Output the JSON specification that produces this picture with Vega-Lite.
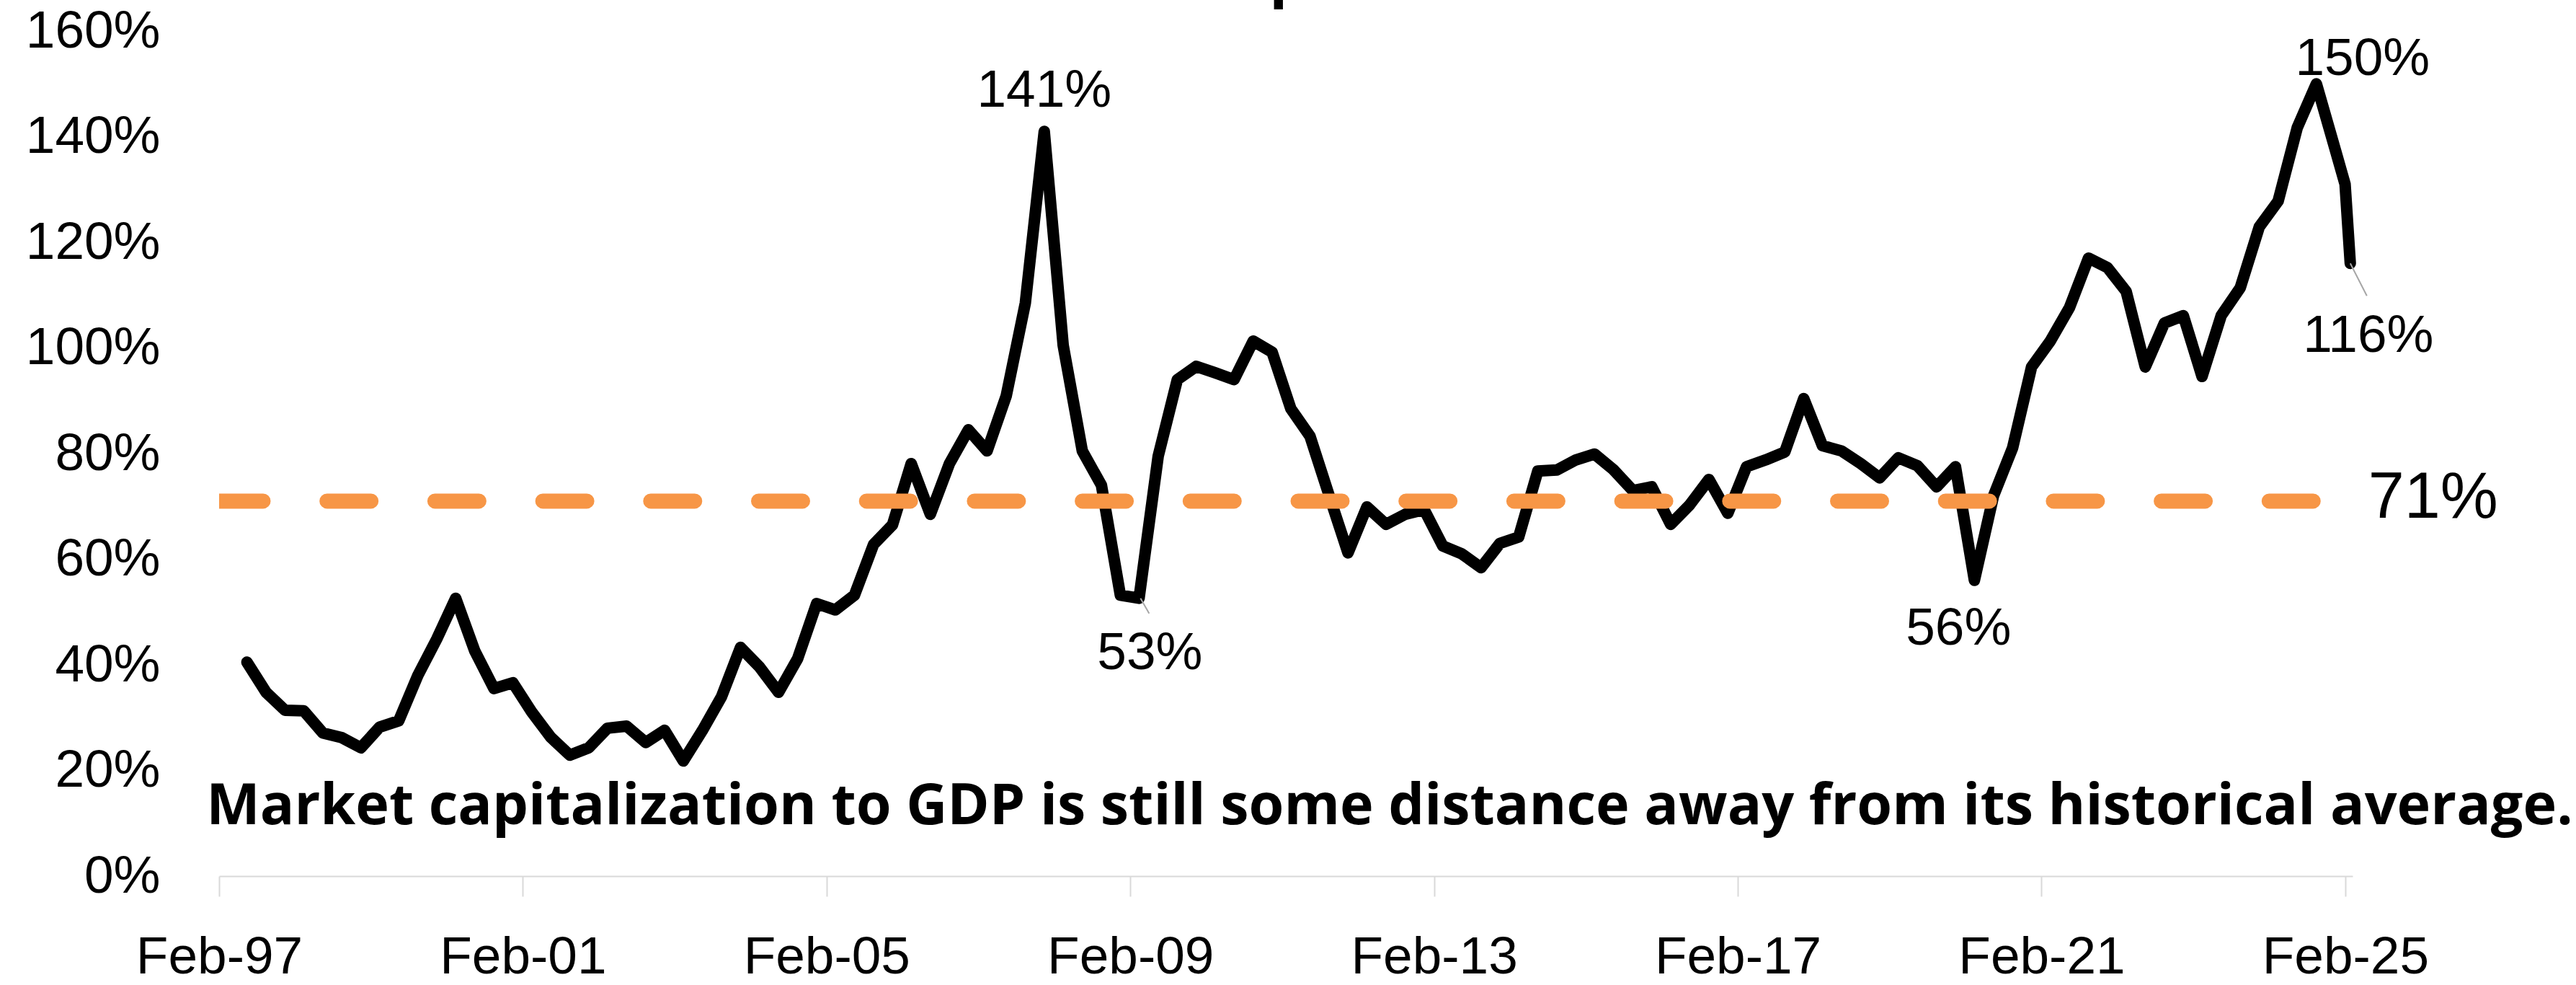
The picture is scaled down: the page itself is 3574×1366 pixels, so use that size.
{
  "$schema": "https://vega.github.io/schema/vega-lite/v6.json",
  "autosize": {"type": "none"},
  "width": 2960,
  "height": 1172,
  "padding": {"left": 304, "top": 43, "right": 310, "bottom": 151},
  "background": "white",
  "config": {"view": {"stroke": null}, "font": "Liberation Sans"},
  "datasets": {
    "series": [
      {"date": "1997-06-15", "value": 40.5}, {"date": "1997-09-15", "value": 34.8}, {"date": "1997-12-15", "value": 31.4},
      {"date": "1998-03-15", "value": 31.3}, {"date": "1998-06-15", "value": 27.1}, {"date": "1998-09-15", "value": 26.2}, {"date": "1998-12-15", "value": 24.3},
      {"date": "1999-03-15", "value": 28.2}, {"date": "1999-06-15", "value": 29.4}, {"date": "1999-09-15", "value": 38.0}, {"date": "1999-12-15", "value": 44.9},
      {"date": "2000-03-15", "value": 52.6}, {"date": "2000-06-15", "value": 42.6}, {"date": "2000-09-15", "value": 35.5}, {"date": "2000-12-15", "value": 36.6},
      {"date": "2001-03-15", "value": 31.1}, {"date": "2001-06-15", "value": 26.3}, {"date": "2001-09-15", "value": 22.9}, {"date": "2001-12-15", "value": 24.3},
      {"date": "2002-03-15", "value": 28.0}, {"date": "2002-06-15", "value": 28.4}, {"date": "2002-09-15", "value": 25.3}, {"date": "2002-12-15", "value": 27.6},
      {"date": "2003-03-15", "value": 21.8}, {"date": "2003-06-15", "value": 27.6}, {"date": "2003-09-15", "value": 34.0}, {"date": "2003-12-15", "value": 43.3},
      {"date": "2004-03-15", "value": 39.6}, {"date": "2004-06-15", "value": 34.8}, {"date": "2004-09-15", "value": 41.2}, {"date": "2004-12-15", "value": 51.6},
      {"date": "2005-03-15", "value": 50.4}, {"date": "2005-06-15", "value": 53.2}, {"date": "2005-09-15", "value": 62.8}, {"date": "2005-12-15", "value": 66.5},
      {"date": "2006-03-15", "value": 78.1}, {"date": "2006-06-15", "value": 68.5}, {"date": "2006-09-15", "value": 78.1}, {"date": "2006-12-15", "value": 84.5},
      {"date": "2007-03-15", "value": 80.5}, {"date": "2007-06-15", "value": 90.9}, {"date": "2007-09-15", "value": 108.5}, {"date": "2007-12-15", "value": 141.0},
      {"date": "2008-03-15", "value": 100.5}, {"date": "2008-06-15", "value": 80.5}, {"date": "2008-09-15", "value": 74.0}, {"date": "2008-12-15", "value": 53.2},
      {"date": "2009-03-15", "value": 52.6}, {"date": "2009-06-15", "value": 79.5}, {"date": "2009-09-15", "value": 94.0}, {"date": "2009-12-15", "value": 96.5},
      {"date": "2010-03-15", "value": 95.3}, {"date": "2010-06-15", "value": 94.0}, {"date": "2010-09-15", "value": 101.3}, {"date": "2010-12-15", "value": 99.2},
      {"date": "2011-03-15", "value": 88.5}, {"date": "2011-06-15", "value": 83.3}, {"date": "2011-09-15", "value": 72.1}, {"date": "2011-12-15", "value": 61.2},
      {"date": "2012-03-15", "value": 69.9}, {"date": "2012-06-15", "value": 66.6}, {"date": "2012-09-15", "value": 68.5}, {"date": "2012-12-15", "value": 69.4},
      {"date": "2013-03-15", "value": 62.5}, {"date": "2013-06-15", "value": 61.0}, {"date": "2013-09-15", "value": 58.4}, {"date": "2013-12-15", "value": 63.0},
      {"date": "2014-03-15", "value": 64.2}, {"date": "2014-06-15", "value": 76.7}, {"date": "2014-09-15", "value": 76.9}, {"date": "2014-12-15", "value": 78.8},
      {"date": "2015-03-15", "value": 79.9}, {"date": "2015-06-15", "value": 76.9}, {"date": "2015-09-15", "value": 73.0}, {"date": "2015-12-15", "value": 73.7},
      {"date": "2016-03-15", "value": 66.6}, {"date": "2016-06-15", "value": 70.3}, {"date": "2016-09-15", "value": 75.1}, {"date": "2016-12-15", "value": 68.7},
      {"date": "2017-03-15", "value": 77.5}, {"date": "2017-06-15", "value": 78.8}, {"date": "2017-09-15", "value": 80.3}, {"date": "2017-12-15", "value": 90.4},
      {"date": "2018-03-15", "value": 81.5}, {"date": "2018-06-15", "value": 80.5}, {"date": "2018-09-15", "value": 78.1}, {"date": "2018-12-15", "value": 75.4},
      {"date": "2019-03-15", "value": 79.2}, {"date": "2019-06-15", "value": 77.7}, {"date": "2019-09-15", "value": 73.7}, {"date": "2019-12-15", "value": 77.5},
      {"date": "2020-03-15", "value": 56.0}, {"date": "2020-06-15", "value": 72.0}, {"date": "2020-09-15", "value": 81.1}, {"date": "2020-12-15", "value": 96.4},
      {"date": "2021-03-15", "value": 101.3}, {"date": "2021-06-15", "value": 107.6}, {"date": "2021-09-15", "value": 117.0}, {"date": "2021-12-15", "value": 115.2},
      {"date": "2022-03-15", "value": 110.7}, {"date": "2022-06-15", "value": 96.4}, {"date": "2022-09-15", "value": 104.7}, {"date": "2022-12-15", "value": 106.1},
      {"date": "2023-03-15", "value": 94.6}, {"date": "2023-06-15", "value": 106.1}, {"date": "2023-09-15", "value": 111.4}, {"date": "2023-12-15", "value": 122.9},
      {"date": "2024-03-15", "value": 127.8}, {"date": "2024-06-15", "value": 141.7}, {"date": "2024-09-15", "value": 150.0}, {"date": "2024-12-15", "value": 137.5},
      {"date": "2025-01-31", "value": 131.0}, {"date": "2025-02-25", "value": 116.0}
    ],
    "average": [{"start": "1997-02-01", "end": "2025-02-25", "value": 71, "text": "71%"}],
    "callouts": [
      {"date": "2007-12-15", "value": 141.0, "text": "141%"},
      {"date": "2024-09-15", "value": 150.0, "text": "150%"},
      {"date": "2009-03-15", "value": 52.6, "text": "53%"},
      {"date": "2020-03-15", "value": 56.0, "text": "56%"},
      {"date": "2025-02-25", "value": 116.0, "text": "116%"}
    ],
    "notes": [
      {"date": "2012-07-02", "value": 9.8, "text": "Market capitalization to GDP is still some distance away from its historical average."}
    ],
    "heading": [
      {"date": "2010-10-03", "value": 166.4, "text": "Market cap to GDP"}
    ]
  },
  "layer": [
    {
      "data": {"name": "series"},
      "mark": {"type": "line", "color": "#000000", "strokeWidth": 16, "strokeJoin": "round", "strokeCap": "round"},
      "encoding": {
        "x": {
          "field": "date", "type": "temporal",
          "scale": {"domain": [{"year": 1997, "month": 2, "date": 1}, {"year": 2025, "month": 3, "date": 8}]},
          "axis": {
            "title": null, "grid": false,
            "values": [
              {"year": 1997, "month": 2, "date": 1}, {"year": 2001, "month": 2, "date": 1}, {"year": 2005, "month": 2, "date": 1},
              {"year": 2009, "month": 2, "date": 1}, {"year": 2013, "month": 2, "date": 1}, {"year": 2017, "month": 2, "date": 1},
              {"year": 2021, "month": 2, "date": 1}, {"year": 2025, "month": 2, "date": 1}
            ],
            "format": "%b-%y",
            "labelFont": "Liberation Sans", "labelFontSize": 73, "labelColor": "#000000", "labelLimit": 1000,
            "labelBaseline": "alphabetic", "labelPadding": 106, "labelFlush": false, "labelOverlap": false,
            "domainColor": "#d9d9d9", "domainWidth": 2, "tickColor": "#d9d9d9", "tickWidth": 2, "tickSize": 28
          }
        },
        "y": {
          "field": "value", "type": "quantitative",
          "scale": {"domain": [0, 160], "nice": false, "zero": true},
          "axis": {
            "title": null, "grid": false, "domain": false, "ticks": false,
            "values": [0, 20, 40, 60, 80, 100, 120, 140, 160],
            "labelExpr": "datum.value + '%'",
            "labelFont": "Liberation Sans", "labelFontSize": 73, "labelColor": "#000000", "labelLimit": 1000,
            "labelPadding": 82, "labelFlush": false, "labelOverlap": false
          }
        }
      }
    },
    {
      "data": {"name": "average"},
      "mark": {"type": "rule", "color": "#F79646", "strokeWidth": 21, "strokeCap": "round", "strokeDash": [61, 88.7], "clip": true},
      "encoding": {
        "x": {"field": "start", "type": "temporal"},
        "x2": {"field": "end"},
        "y": {"field": "value", "type": "quantitative"}
      }
    },
    {
      "data": {"name": "average"},
      "mark": {"type": "text", "font": "Liberation Sans", "fontSize": 90, "color": "#000000", "align": "center", "baseline": "middle", "dx": 115, "dy": -4},
      "encoding": {
        "x": {"field": "end", "type": "temporal"},
        "y": {"field": "value", "type": "quantitative"},
        "text": {"field": "text"}
      }
    },
    {
      "data": {"name": "callouts"},
      "transform": [{"filter": "datum.text === '53%'"}],
      "mark": {"type": "rule", "color": "#a6a6a6", "strokeWidth": 2, "xOffset": 2, "x2Offset": 14, "y2Offset": 21},
      "encoding": {
        "x": {"field": "date", "type": "temporal"},
        "x2": {"field": "date"},
        "y": {"field": "value", "type": "quantitative"},
        "y2": {"field": "value"}
      }
    },
    {
      "data": {"name": "callouts"},
      "transform": [{"filter": "datum.text === '116%'"}],
      "mark": {"type": "rule", "color": "#a6a6a6", "strokeWidth": 2, "x2Offset": 23, "y2Offset": 45},
      "encoding": {
        "x": {"field": "date", "type": "temporal"},
        "x2": {"field": "date"},
        "y": {"field": "value", "type": "quantitative"},
        "y2": {"field": "value"}
      }
    },
    {
      "data": {"name": "callouts"},
      "transform": [{"filter": "datum.text === '141%'"}],
      "mark": {"type": "text", "font": "Liberation Sans", "fontSize": 73, "color": "#000000", "align": "center", "baseline": "middle", "dy": -56},
      "encoding": {"x": {"field": "date", "type": "temporal"}, "y": {"field": "value", "type": "quantitative"}, "text": {"field": "text"}}
    },
    {
      "data": {"name": "callouts"},
      "transform": [{"filter": "datum.text === '150%'"}],
      "mark": {"type": "text", "font": "Liberation Sans", "fontSize": 73, "color": "#000000", "align": "center", "baseline": "middle", "dx": 64, "dy": -34},
      "encoding": {"x": {"field": "date", "type": "temporal"}, "y": {"field": "value", "type": "quantitative"}, "text": {"field": "text"}}
    },
    {
      "data": {"name": "callouts"},
      "transform": [{"filter": "datum.text === '53%'"}],
      "mark": {"type": "text", "font": "Liberation Sans", "fontSize": 73, "color": "#000000", "align": "center", "baseline": "middle", "dx": 15, "dy": 76},
      "encoding": {"x": {"field": "date", "type": "temporal"}, "y": {"field": "value", "type": "quantitative"}, "text": {"field": "text"}}
    },
    {
      "data": {"name": "callouts"},
      "transform": [{"filter": "datum.text === '56%'"}],
      "mark": {"type": "text", "font": "Liberation Sans", "fontSize": 73, "color": "#000000", "align": "center", "baseline": "middle", "dx": -22, "dy": 67},
      "encoding": {"x": {"field": "date", "type": "temporal"}, "y": {"field": "value", "type": "quantitative"}, "text": {"field": "text"}}
    },
    {
      "data": {"name": "callouts"},
      "transform": [{"filter": "datum.text === '116%'"}],
      "mark": {"type": "text", "font": "Liberation Sans", "fontSize": 73, "color": "#000000", "align": "center", "baseline": "middle", "dx": 25, "dy": 101},
      "encoding": {"x": {"field": "date", "type": "temporal"}, "y": {"field": "value", "type": "quantitative"}, "text": {"field": "text"}}
    },
    {
      "data": {"name": "notes"},
      "mark": {"type": "text", "font": "Open Sans", "fontWeight": "bold", "fontSize": 79, "color": "#000000", "align": "center", "baseline": "alphabetic"},
      "encoding": {"x": {"field": "date", "type": "temporal"}, "y": {"field": "value", "type": "quantitative"}, "text": {"field": "text"}}
    },
    {
      "data": {"name": "heading"},
      "mark": {"type": "text", "font": "Lato", "fontWeight": "bold", "fontSize": 100, "color": "#000000", "align": "center", "baseline": "alphabetic"},
      "encoding": {"x": {"field": "date", "type": "temporal"}, "y": {"field": "value", "type": "quantitative"}, "text": {"field": "text"}}
    }
  ]
}
